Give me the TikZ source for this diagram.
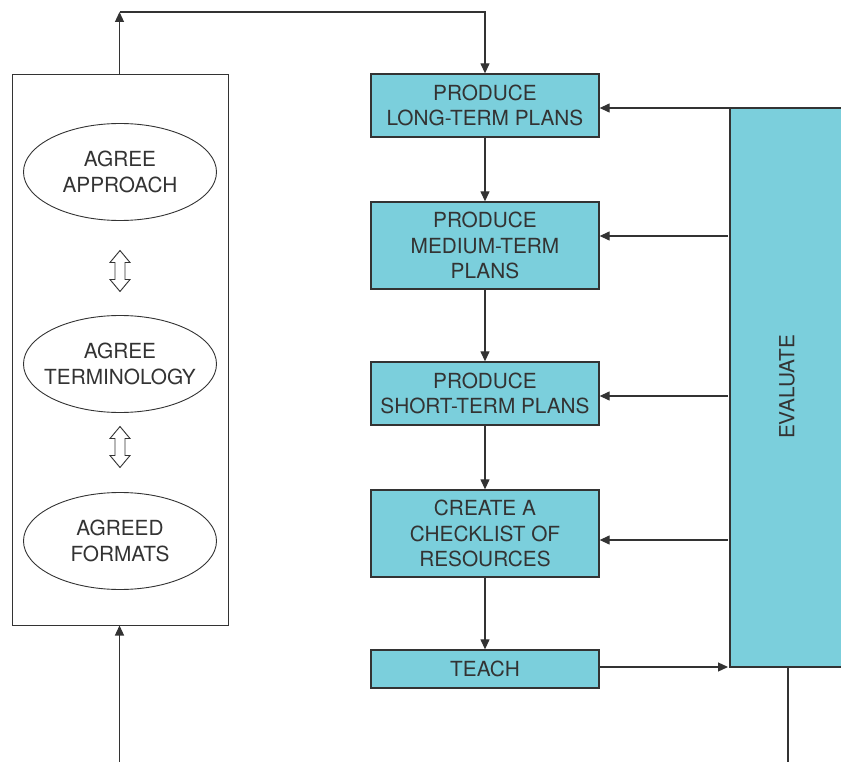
\documentclass[tikz,border=0pt]{standalone}
\usepackage{fontspec}
\setmainfont{TeX Gyre Heros}
\usetikzlibrary{shapes.geometric,arrows.meta,calc}
\definecolor{boxblue}{HTML}{7BCFDC}
\definecolor{ink}{HTML}{333333}
\begin{document}
\begin{tikzpicture}[x=1pt,y=-1pt,
  every node/.style={font=\fontsize{20.8}{25.5}\selectfont, text=ink},
  bluebox/.style={draw=ink, line width=1.3pt, fill=boxblue, minimum width=228pt, align=center, inner sep=0pt},
  oval/.style={draw=ink, line width=0.9pt, ellipse, minimum width=193pt, minimum height=97pt, align=center, inner xsep=-40pt, inner ysep=-10pt},
  arr/.style={draw=ink, line width=1.2pt, -{Triangle[length=10pt,width=9pt]}},
  ln/.style={draw=ink, line width=1.2pt}]
\useasboundingbox (0,0) rectangle (841,762);
% left container
\node[draw=ink, line width=1pt, minimum width=216pt, minimum height=550pt, inner sep=0pt] (L) at (120,350) {};
\node[oval] (E1) at (120,172) {AGREE\\APPROACH};
\node[oval] (E2) at (120,364) {AGREE\\TERMINOLOGY};
\node[oval] (E3) at (120,541) {AGREED\\FORMATS};
% open double arrows
\foreach \cy/\nm in {271/D1,447/D2}{
  \coordinate (\nm) at (120,\cy);
  \draw[ink, line width=0.9pt, fill=white, line join=miter]
    ($(\nm)+(0,-20.5)$) -- ++(10,12) -- ++(-5,0) -- ++(0,17) -- ++(5,0) -- ++(-10,12) -- ++(-10,-12) -- ++(5,0) -- ++(0,-17) -- ++(-5,0) -- cycle;
}
% blue boxes
\node[bluebox, minimum height=63pt] (P1) at (485,105.5) {PRODUCE\\LONG-TERM PLANS};
\node[bluebox, minimum height=87pt] (P2) at (485,245.5) {PRODUCE\\MEDIUM-TERM\\PLANS};
\node[bluebox, minimum height=63pt] (P3) at (485,393.5) {PRODUCE\\SHORT-TERM PLANS};
\node[bluebox, minimum height=87pt] (P4) at (485,533.5) {CREATE A\\CHECKLIST OF\\RESOURCES};
\node[bluebox, minimum height=38pt] (P5) at (485,669) {TEACH};
% evaluate box (cut by right edge)
\fill[boxblue] (730,108) rectangle (845,667);
\draw[ln, line width=1.3pt] (845,108) -- (730,108) -- (730,667) -- (845,667);
\coordinate (EVtl) at (730,108);
\coordinate (EVbl) at (728,667);
\node[rotate=90] (EV) at (787,387) {EVALUATE};
% top loop
\coordinate (T) at (119.5,12);
\coordinate (Bot) at (119.5,762);
\draw[arr] (L.north -| T) -- (T);
\draw[arr] (T) -- (T -| P1.north) -- (P1.north);
\draw[arr] (Bot) -- (L.south -| Bot);
% vertical chain
\draw[arr] (P1) -- (P2);
\draw[arr] (P2) -- (P3);
\draw[arr] (P3) -- (P4);
\draw[arr] (P4) -- (P5);
% feedback from evaluate
\draw[arr] (EVtl) -- (P1.east |- EVtl);
\foreach \yy/\nm in {236/P2,396/P3,540/P4}{
  \coordinate (F\nm) at (728,\yy);
  \draw[arr] (F\nm) -- (\nm.east |- F\nm);
}
\draw[arr] (P5.east |- EVbl) -- (EVbl);
\coordinate (B) at (788,762);
\draw[ln] (788,667) -- (B);
\end{tikzpicture}
\end{document}
